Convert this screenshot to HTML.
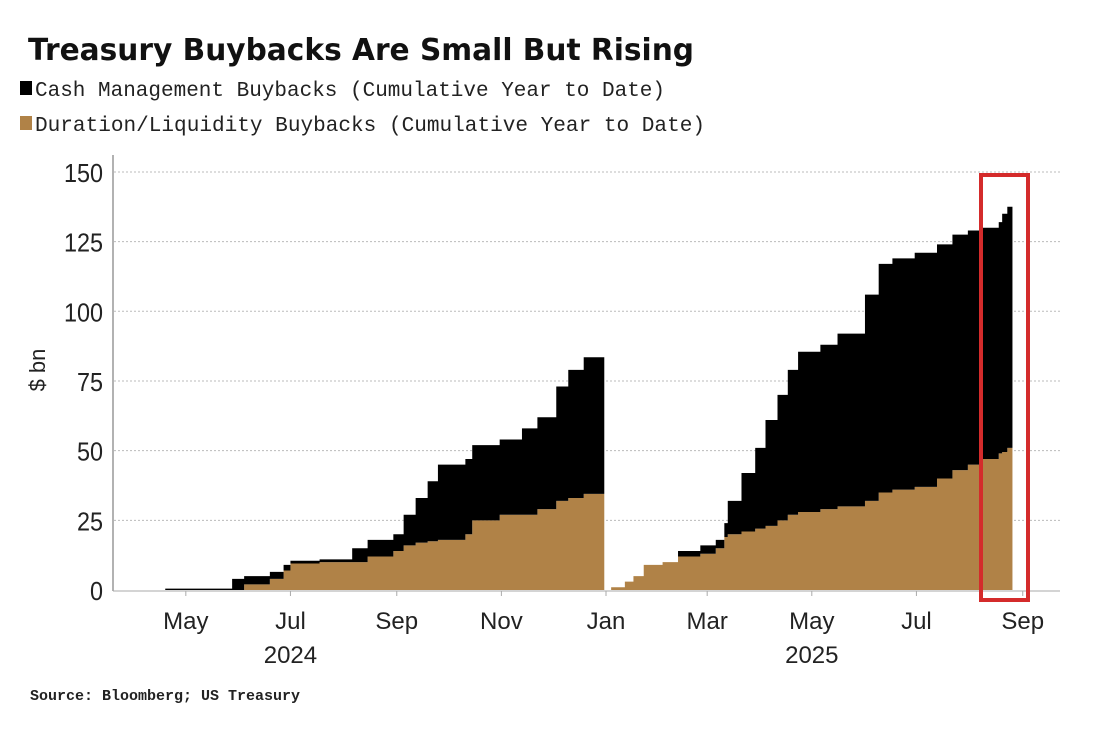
<!DOCTYPE html>
<html><head><meta charset="utf-8"><style>
html,body{margin:0;padding:0;background:#fff;width:1100px;height:731px;overflow:hidden}
svg{display:block}
</style></head><body>
<svg id="chart" width="1100" height="731" xmlns="http://www.w3.org/2000/svg">
<text x="28" y="60" font-family="DejaVu Sans, Liberation Sans, sans-serif" font-weight="bold" font-size="30" textLength="666" lengthAdjust="spacingAndGlyphs" fill="#111">Treasury Buybacks Are Small But Rising</text>
<rect x="20" y="81" width="12" height="14" fill="#000"/>
<text x="35" y="96" font-family="Liberation Mono, monospace" font-size="21" textLength="630" lengthAdjust="spacingAndGlyphs" fill="#222">Cash Management Buybacks (Cumulative Year to Date)</text>
<rect x="20" y="116" width="12" height="14" fill="#b08247"/>
<text x="35" y="131" font-family="Liberation Mono, monospace" font-size="21" textLength="670" lengthAdjust="spacingAndGlyphs" fill="#222">Duration/Liquidity Buybacks (Cumulative Year to Date)</text>
<g id="grid"></g>
<g id="marks"></g>
<line x1="113" y1="155" x2="113" y2="591" stroke="#999" stroke-width="1.5"/>
<line x1="113" y1="591" x2="1060" y2="591" stroke="#aaa" stroke-width="1"/>
<g id="axes"></g>
<text x="45" y="370" transform="rotate(-90 45 370)" text-anchor="middle" font-family="Liberation Sans, sans-serif" font-size="22" fill="#222">$ bn</text>
<rect x="981" y="175" width="47" height="425" fill="none" stroke="#d42b2b" stroke-width="4"/>
<text x="30" y="700" font-family="Liberation Mono, monospace" font-weight="bold" font-size="15" fill="#222">Source: Bloomberg; US Treasury</text>
</svg>
<script>
// days from 2025-01-01
const days2024 = [-286,-257,-218,-211,-196,-188,-184,-167,-148,-139,-124,-118,-111,-104,-98,-82,-78,-62,-49,-40,-29,-22,-13];
const duration2024 = [0,0,0,2,4,7,9.5,10,10,12,14,16,17,17.5,18,20,25,27,27,29,32,33,34.5];
const cash2024 = [0,0.5,4,3,2.5,2,1,1,5,6,6,11,16,21.5,27,27,27,27,31,33,41,46,49];
const end2024 = -1;
const days2025 = [3,11,16,22,33,42,55,64,69,71,79,87,93,100,106,112,125,135,151,159,167,180,193,202,211,218,229,231,234];
const duration2025 = [1,3,5,9,10,12,13,15,19,20,21,22,23,25,27,28,29,30,32,35,36,37,40,43,45,47,49,49.5,51];
const cash2025 = [0,0,0,0,0,2,3,3,5,12,21,29,38,45,52,57.5,59,62,74,82,83,84,84,84.5,84,83,83,85.5,86.5];
const end2025 = 237;
const yTicks = [0,25,50,75,100,125,150];
const monthTicks = [{d:-245,l:"May"},{d:-184,l:"Jul"},{d:-122,l:"Sep"},{d:-61,l:"Nov"},{d:0,l:"Jan"},{d:59,l:"Mar"},{d:120,l:"May"},{d:181,l:"Jul"},{d:243,l:"Sep"}];
const yearLabels = [{d:-184,l:"2024"},{d:120,l:"2025"}];

const NS="http://www.w3.org/2000/svg";
const x = d => 606 + d*1.715;
const y = v => 590 - v*2.787;
function mk(tag, attrs, parent){const e=document.createElementNS(NS,tag);for(const k in attrs)e.setAttribute(k,attrs[k]);parent.appendChild(e);return e;}
const grid=document.getElementById('grid'), marks=document.getElementById('marks'), axes=document.getElementById('axes');
yTicks.forEach(v=>{
  if(v>0){const g=mk('line',{x1:114,x2:1060,y1:y(v),y2:y(v),stroke:'#bbb','stroke-width':1,'stroke-dasharray':'2,2'},grid);
  
  }
  const t=mk('text',{x:103,y:y(v)+10,'text-anchor':'end','font-family':'Liberation Sans, sans-serif','font-size':26,fill:'#222',transform:'translate(103 0) scale(0.9 1) translate(-103 0)'},axes);
  t.textContent=v;
  
  
});
monthTicks.forEach(m=>{
  const t=mk('text',{x:x(m.d),y:629,'text-anchor':'middle','font-family':'Liberation Sans, sans-serif','font-size':24,fill:'#222'},axes);
  t.textContent=m.l;
  
  
  mk('line',{x1:x(m.d),x2:x(m.d),y1:591,y2:596,stroke:'#aaa'},axes);
});
yearLabels.forEach(m=>{
  const t=mk('text',{x:x(m.d),y:663,'text-anchor':'middle','font-family':'Liberation Sans, sans-serif','font-size':24,fill:'#222'},axes);
  t.textContent=m.l;
  
  
});
function stepPath(days, lower, upper, end){
  let top='', bot='';
  for(let i=0;i<days.length;i++){
    const x0=x(days[i]), x1=x(i+1<days.length?days[i+1]:end);
    top+=(i===0?'M':'L')+x0+','+y(upper[i])+'L'+x1+','+y(upper[i]);
  }
  for(let i=days.length-1;i>=0;i--){
    const x0=x(days[i]), x1=x(i+1<days.length?days[i+1]:end);
    bot+='L'+x1+','+y(lower[i])+'L'+x0+','+y(lower[i]);
  }
  return top+bot+'Z';
}
[[days2024,duration2024,cash2024,end2024,'2024'],[days2025,duration2025,cash2025,end2025,'2025']].forEach(s=>{
  const [d,dur,cash,end,yr]=s;
  const zero=d.map(()=>0);
  const tot=dur.map((v,i)=>v+cash[i]);
  const p1=mk('path',{d:stepPath(d,zero,dur,end),fill:'#b08247'},marks);
  
  
  const p2=mk('path',{d:stepPath(d,dur,tot,end),fill:'#000'},marks);
  
  
});
</script>
</body></html>
